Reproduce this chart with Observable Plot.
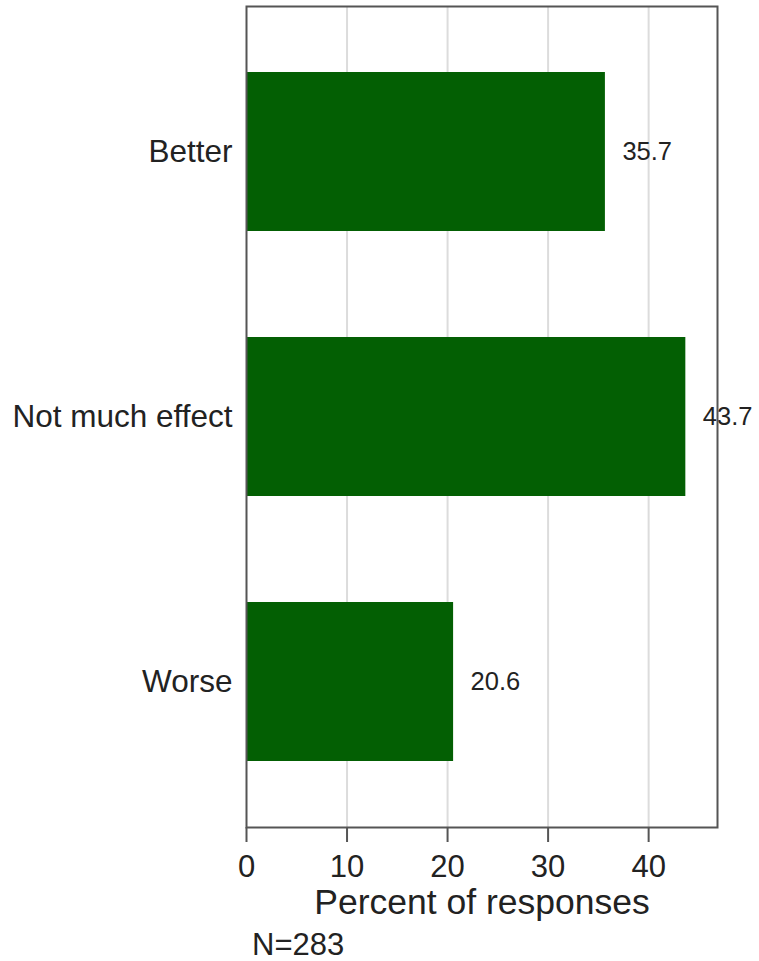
<!DOCTYPE html>
<html>
<head>
<meta charset="utf-8">
<script src="https://cdn.jsdelivr.net/npm/d3@7"></script>
<script src="https://cdn.jsdelivr.net/npm/@observablehq/plot@0.6"></script>
<style>
  html, body { margin: 0; padding: 0; background: #fff; }
  #wrap { position: relative; width: 759px; height: 961px; font-family: Arial, "Liberation Sans", Helvetica, sans-serif; }
  #note { position: absolute; left: 252px; top: 929px; font-size: 31px; line-height: 31px; color: #222; }
</style>
</head>
<body>
<div id="wrap"></div>
<script>
const categories = ["Better", "Not much effect", "Worse"];
const values = [35.7, 43.7, 20.6];
const xTicks = [0, 10, 20, 30, 40];
const xTitle = "Percent of responses";
const note = "N=283";

const data = categories.map((c, i) => ({category: c, value: values[i]}));

const chart = Plot.plot({
  width: 759,
  height: 925,
  marginLeft: 246,
  marginRight: 42,
  marginTop: 6,
  marginBottom: 98,
  style: {fontFamily: 'Arial, "Liberation Sans", Helvetica, sans-serif', color: "#222", background: "#fff"},
  x: {domain: [0, 46.85]},
  y: {domain: categories, paddingInner: 0.4, paddingOuter: 0.244},
  marks: [
    Plot.gridX(xTicks.filter(d => d > 0), {stroke: "#dcdcdc", strokeWidth: 2, strokeOpacity: 1}),
    Plot.barX(data, {x: "value", y: "category", fill: "#035f03"}),
    Plot.text(data, {x: "value", y: "category", text: d => d.value.toFixed(1), dx: 17, textAnchor: "start", fontSize: 25.5, fill: "#222"}),
    Plot.frame({stroke: "#555", strokeWidth: 2}),
    Plot.axisX({ticks: xTicks, tickSize: 15, tickPadding: 12, fontSize: 31, label: null, stroke: "#555", strokeWidth: 2}),
    Plot.axisY({tickSize: 0, tickPadding: 14, fontSize: 31.5, label: null}),
    Plot.text([xTitle], {frameAnchor: "bottom", dy: 86, lineAnchor: "bottom", fontSize: 35.5, fill: "#222"})
  ]
});

const wrap = document.getElementById("wrap");
wrap.appendChild(chart);
const n = document.createElement("div");
n.id = "note";
n.textContent = note;
wrap.appendChild(n);
</script>
</body>
</html>
